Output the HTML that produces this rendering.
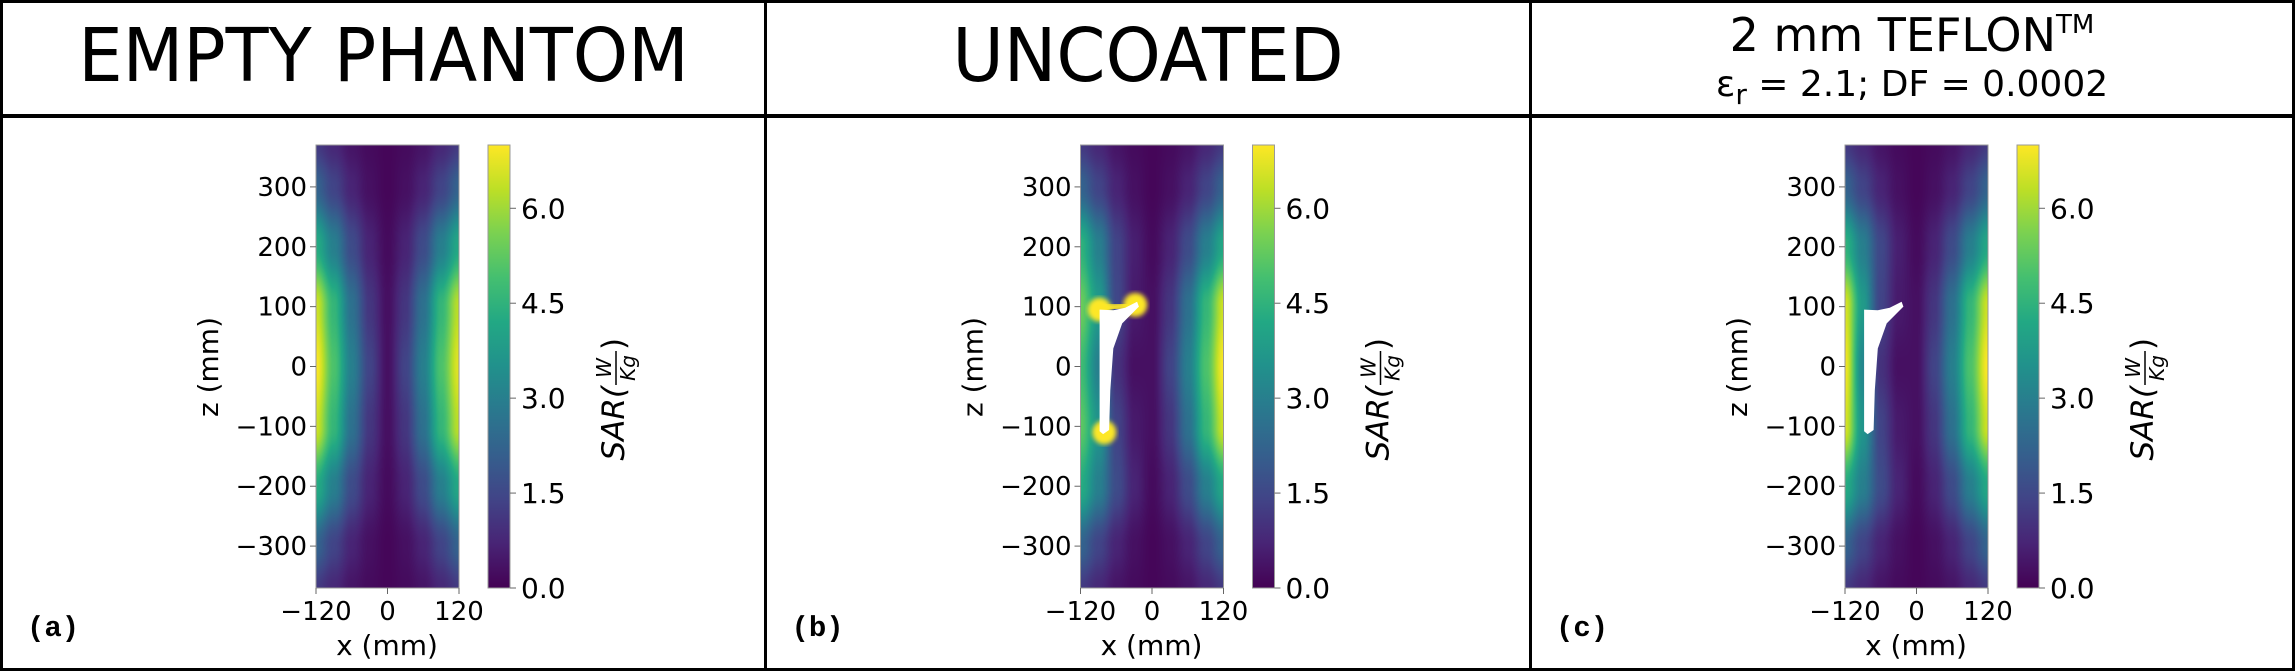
<!DOCTYPE html>
<html><head><meta charset="utf-8">
<style>
body{margin:0;background:#fff}
#root{position:relative;width:2295px;height:671px;overflow:hidden;background:#fff;font-family:"DejaVu Sans","Liberation Sans",sans-serif;color:#000}
.box{position:absolute;border:3px solid #000;box-sizing:border-box}
.t{position:absolute;white-space:nowrap;line-height:1}
</style></head><body>
<div id="root">
 <div class="box" style="left:0;top:0;width:767px;height:117px"></div>
 <div class="box" style="left:764px;top:0;width:768px;height:117px"></div>
 <div class="box" style="left:1529px;top:0;width:766px;height:117px"></div>
 <div class="box" style="left:0;top:115px;width:767px;height:556px"></div>
 <div class="box" style="left:764px;top:115px;width:768px;height:556px"></div>
 <div class="box" style="left:1529px;top:115px;width:766px;height:556px"></div>
 <div class="t" style="left:0;width:767px;text-align:center;top:19px;font-size:74px;transform:scaleX(0.95)">EMPTY PHANTOM</div>
 <div class="t" style="left:764px;width:768px;text-align:center;top:19px;font-size:74px;transform:scaleX(0.95)">UNCOATED</div>
 <div class="t" style="left:1529px;width:766px;text-align:center;top:12px;font-size:46px">2 mm TEFLON<sup style="font-size:26px;vertical-align:18px">TM</sup></div>
 <div class="t" style="left:1529px;width:766px;text-align:center;top:67px;font-size:36px">ε<sub style="font-size:28px;vertical-align:-8px">r</sub> = 2.1; DF = 0.0002</div>
</div>
<script>
// grid axes (mm)
const gridX=[-120,-90,-60,-30,0,30,60,90,120];
const gridZ=[370,300,200,100,0,-100,-200,-300,-370];
const sarA=[
[1.2,0.8,0.4,0.2,0.1,0.2,0.4,0.8,1.2],
[2.2,1.4,0.7,0.3,0.1,0.3,0.7,1.4,2.2],
[4.3,3.0,1.6,0.7,0.2,0.7,1.6,3.0,4.2],
[6.5,4.6,2.6,1.1,0.3,1.1,2.6,4.6,6.3],
[7.0,5.0,3.0,1.4,0.3,1.4,3.0,5.0,6.7],
[6.5,4.6,2.6,1.1,0.3,1.1,2.6,4.6,6.3],
[4.3,3.0,1.6,0.7,0.2,0.7,1.6,3.0,4.2],
[2.2,1.4,0.7,0.3,0.1,0.3,0.7,1.4,2.2],
[1.2,0.8,0.4,0.2,0.1,0.2,0.4,0.8,1.2]];
const sarB=[
[1.2,0.8,0.4,0.2,0.1,0.2,0.4,0.8,1.2],
[2.2,1.4,0.7,0.3,0.1,0.3,0.7,1.4,2.2],
[4.5,3.0,1.4,0.6,0.2,0.7,1.6,3.0,4.2],
[5.4,3.8,1.5,0.5,0.3,1.1,2.6,4.6,6.5],
[4.8,3.0,1.0,0.3,0.3,1.4,3.0,5.0,7.0],
[5.2,3.6,1.4,0.5,0.3,1.1,2.6,4.6,6.5],
[4.3,3.0,1.6,0.7,0.2,0.7,1.6,3.0,4.2],
[2.2,1.4,0.7,0.3,0.1,0.3,0.7,1.4,2.2],
[1.2,0.8,0.4,0.2,0.1,0.2,0.4,0.8,1.2]];
const sarC=[
[1.2,0.8,0.4,0.2,0.1,0.2,0.4,0.8,1.2],
[2.2,1.4,0.7,0.3,0.1,0.3,0.7,1.4,2.2],
[4.5,3.0,1.5,0.6,0.2,0.7,1.6,3.0,4.2],
[6.6,3.8,1.4,0.5,0.3,1.1,2.6,4.6,6.5],
[6.9,3.2,1.0,0.3,0.3,1.4,3.0,5.0,7.0],
[6.6,3.6,1.4,0.5,0.3,1.1,2.6,4.6,6.5],
[4.3,3.0,1.6,0.7,0.2,0.7,1.6,3.0,4.2],
[2.2,1.4,0.7,0.3,0.1,0.3,0.7,1.4,2.2],
[1.2,0.8,0.4,0.2,0.1,0.2,0.4,0.8,1.2]];
const zTicks=[300,200,100,0,-100,-200,-300];
const xTicks=[-120,0,120];
const cbTicks=[0,1.5,3,4.5,6];
const cbLabels=["0.0","1.5","3.0","4.5","6.0"];
const vmax=7.0;
const panelLetters=["(a)","(b)","(c)"];
const panelOffsets=[0,764.5,1529];

const VIR=[[68,1,84],[72,36,117],[65,68,135],[53,95,141],[42,120,142],[33,145,140],[34,168,132],[68,191,112],[122,209,81],[189,223,38],[253,231,37]];
function viridis(t){t=Math.max(0,Math.min(1,t))*10;const i=Math.min(9,Math.floor(t)),f=t-i,a=VIR[i],b=VIR[i+1];return [a[0]+(b[0]-a[0])*f,a[1]+(b[1]-a[1])*f,a[2]+(b[2]-a[2])*f];}
const HX0=316,HX1=459,HY0=145,HY1=588,ZMAX=370;
const sx=x=>HX0+(x+120)/240*(HX1-HX0);
const sz=z=>HY0+(ZMAX-z)/(2*ZMAX)*(HY1-HY0);
const cy=v=>HY1-v/vmax*(HY1-HY0);
function sample(g,x,z){
 let i=0;while(i<gridX.length-2&&x>gridX[i+1])i++;
 let j=0;while(j<gridZ.length-2&&z<gridZ[j+1])j++;
 let fx=(x-gridX[i])/(gridX[i+1]-gridX[i]),fz=(z-gridZ[j])/(gridZ[j+1]-gridZ[j]);
 fx=Math.max(0,Math.min(1,fx));fz=Math.max(0,Math.min(1,fz));
 fx=fx*fx*(3-2*fx);fz=fz*fz*(3-2*fz);
 const a=g[j][i]*(1-fx)+g[j][i+1]*fx,b=g[j+1][i]*(1-fx)+g[j+1][i+1]*fx;
 return a*(1-fz)+b*fz;}
const root=document.getElementById('root');
const NS="http://www.w3.org/2000/svg";
const grids=[sarA,sarB,sarC];
const implantPath=[[-88,95],[-88,-108],[-82,-113],[-72,-106],[-70,-40],[-65,30],[-50,72],[-22,100],[-25,108],[-45,98],[-65,94]];
grids.forEach((g,p)=>{
 const o=panelOffsets[p];
 const W=HX1-HX0,H=HY1-HY0;
 const cv=document.createElement('canvas');cv.width=W;cv.height=H;
 cv.style.cssText=`position:absolute;left:${o+HX0}px;top:${HY0}px;width:${W}px;height:${H}px`;
 
 
 const ctx=cv.getContext('2d'),im=ctx.createImageData(W,H);
 for(let y=0;y<H;y++)for(let x=0;x<W;x++){
  const mx=-120+(x+0.5)/W*240,mz=ZMAX-(y+0.5)/H*2*ZMAX;
  const c=viridis(sample(g,mx,mz)/vmax),k=(y*W+x)*4;
  im.data[k]=c[0];im.data[k+1]=c[1];im.data[k+2]=c[2];im.data[k+3]=255;}
 ctx.putImageData(im,0,0);
 root.appendChild(cv);
 const svg=document.createElementNS(NS,'svg');
 svg.setAttribute('width',2295);svg.setAttribute('height',671);
 svg.style.cssText='position:absolute;left:0;top:0';
 
 
 let s='';
 if(p>0){
  const d='M'+implantPath.map(q=>(o+sx(q[0])).toFixed(1)+','+sz(q[1]).toFixed(1)).join('L')+'Z';
  if(p===1){
   s+=`<defs><filter id="bl"><feGaussianBlur stdDeviation="2.5"/></filter></defs>`;
   s+=`<line x1="${o+sx(-88)}" y1="${sz(97)}" x2="${o+sx(-28)}" y2="${sz(103)}" stroke="#fde725" stroke-width="8" filter="url(#bl)"/>`;
   [[-88,95],[-28,103],[-80,-110]].forEach(q=>{s+=`<circle cx="${o+sx(q[0])}" cy="${sz(q[1])}" r="12" fill="#fde725" filter="url(#bl)"/>`;});
  }
  s+=`<path d="${d}" fill="#fff"/>`;
 }
 s+=`<rect x="${o+HX0}" y="${HY0}" width="${HX1-HX0}" height="${HY1-HY0}" fill="none" stroke="#999" stroke-width="1"/>`;
 zTicks.forEach(z=>{s+=`<line x1="${o+HX0-6}" x2="${o+HX0}" y1="${sz(z)}" y2="${sz(z)}" stroke="#666"/><text x="${o+HX0-9}" y="${sz(z)+9}" text-anchor="end" font-size="26">${z<0?'−'+(-z):z}</text>`;});
 xTicks.forEach(x=>{s+=`<line x1="${o+sx(x)}" x2="${o+sx(x)}" y1="${HY1}" y2="${HY1+6}" stroke="#666"/><text x="${o+sx(x)}" y="${HY1+32}" text-anchor="middle" font-size="26">${x<0?'−'+(-x):x}</text>`;});
 s+=`<text x="${o+387}" y="${655}" text-anchor="middle" font-size="28">x (mm)</text>`;
 s+=`<text transform="translate(${o+218},${367}) rotate(-90)" text-anchor="middle" font-size="28">z (mm)</text>`;
 s+=`<defs><linearGradient id="cbg${p}" x1="0" y1="1" x2="0" y2="0">`;
 for(let i=0;i<=10;i++){const c=VIR[i];s+=`<stop offset="${i/10}" stop-color="rgb(${c.join(',')})"/>`;}
 s+=`</linearGradient></defs><rect x="${o+488}" y="${HY0}" width="22" height="${HY1-HY0}" fill="url(#cbg${p})" stroke="#999"/>`;
 cbTicks.forEach((v,i)=>{s+=`<line x1="${o+510}" x2="${o+516}" y1="${cy(v)}" y2="${cy(v)}" stroke="#666"/><text x="${o+521}" y="${cy(v)+10}" font-size="28">${cbLabels[i]}</text>`;});
 s+=`<g transform="translate(${o+624},${368}) rotate(-90)"><text x="-18" y="0" text-anchor="end" font-size="31" font-style="italic">SAR(</text><text x="0" y="-13" text-anchor="middle" font-size="20" font-style="italic">W</text><line x1="-17" x2="17" y1="-8" y2="-8" stroke="#000" stroke-width="1.5"/><text x="0" y="11" text-anchor="middle" font-size="20" font-style="italic">Kg</text><text x="18" y="0" font-size="31">)</text></g>`;
 s+=`<text x="${o+27}" y="${636}" font-family="'Liberation Mono',monospace" font-weight="bold" font-size="29">${panelLetters[p]}</text>`;
 svg.innerHTML=s;
 root.appendChild(svg);
});
</script>
</body></html>
